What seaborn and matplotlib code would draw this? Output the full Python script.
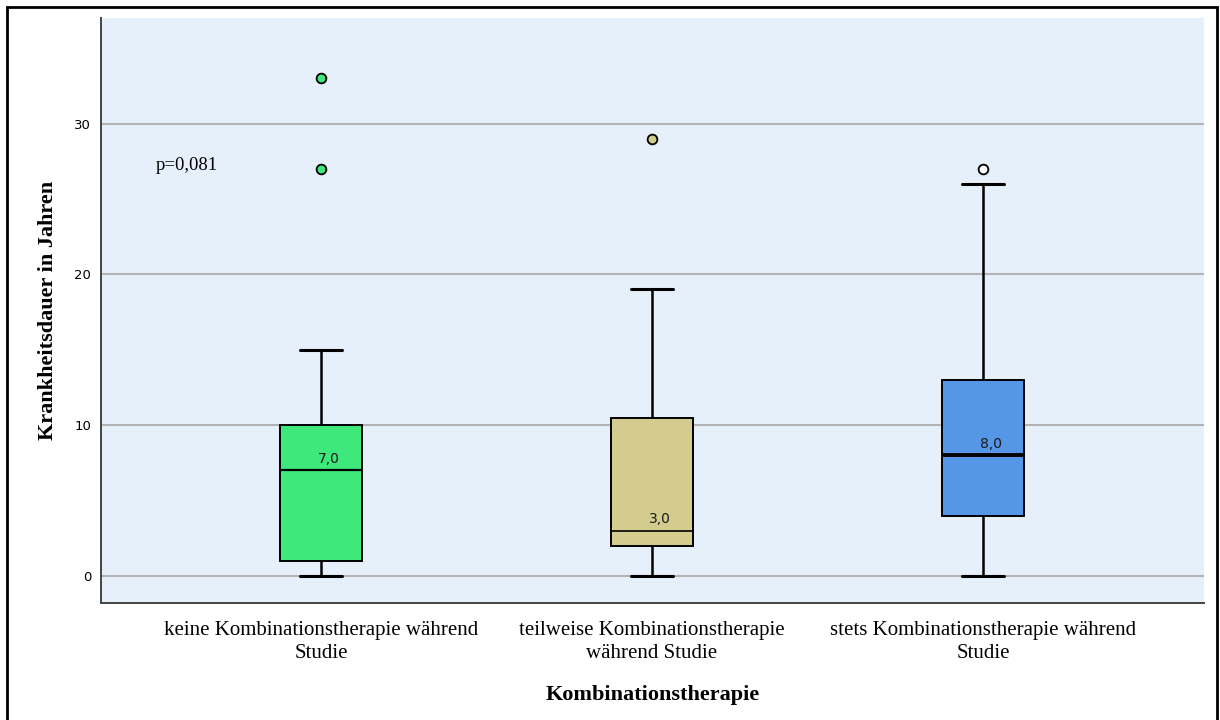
import numpy as np
import pandas as pd

import matplotlib
matplotlib.use('Agg')

import matplotlib.pyplot as plt
from matplotlib.patches import Rectangle

import seaborn as sns

# Gruppen und (geschätzte) Einzelwerte, so gewählt dass Quartile/Whisker/Ausreißer dem Bild entsprechen
groups = ['keine Kombinationstherapie während\nStudie',
          'teilweise Kombinationstherapie\nwährend Studie',
          'stets Kombinationstherapie während\nStudie']
keine = [0, 0.5, 1, 1, 4, 6, 7, 8, 10, 10, 15, 27, 33]
teilweise = [0, 1, 2, 2, 2, 3, 3, 5, 8, 10.5, 14, 19, 29]
stets = [0, 2, 3, 4, 5, 7, 8, 9, 11, 13, 18, 26, 27]

box_colors = ['#3FE87A', '#D4CC8F', '#5596E6']
flier_faces = ['#3FE87A', '#D4CC8F', 'white']
median_labels = ['7,0', '3,0', '8,0']
median_widths = [1.6, 1.2, 2.8]
yticks = [0, 10, 20, 30]
p_text = 'p=0,081'

df = pd.DataFrame({
    'gruppe': [groups[0]] * len(keine) + [groups[1]] * len(teilweise) + [groups[2]] * len(stets),
    'dauer': keine + teilweise + stets,
})

sns.set_theme(style='white')
plt.rcParams['text.color'] = 'black'
plt.rcParams['axes.labelcolor'] = 'black'
plt.rcParams['xtick.color'] = 'black'
plt.rcParams['ytick.color'] = 'black'
serif = ['Liberation Serif', 'DejaVu Serif']

fig = plt.figure(figsize=(12.2, 7.2), dpi=100)
ax = fig.add_axes([101 / 1220, 1 - 603 / 720, (1204 - 101) / 1220, (603 - 18) / 720])
ax.set_facecolor('#E6F0FB')

sns.boxplot(data=df, x='gruppe', y='dauer', hue='gruppe', palette=box_colors,
            width=0.25, whis=1.5, linecolor='black', linewidth=1.4, legend=False,
            saturation=1, ax=ax,
            whiskerprops=dict(linewidth=1.8, color='black'),
            capprops=dict(linewidth=2.2, color='black'),
            flierprops=dict(marker='o', markersize=7, markeredgecolor='black',
                            markeredgewidth=1.3))

for line in ax.lines:
    x = np.asarray(line.get_xdata(), dtype=float)
    y = np.asarray(line.get_ydata(), dtype=float)
    if len(x) == 0:
        continue
    gi = int(round(np.mean(x)))
    if line.get_marker() == 'o':
        line.set_markerfacecolor(flier_faces[gi])
        line.set_markeredgecolor('black')
    elif len(y) == 2 and y[0] == y[1]:
        if abs(x[1] - x[0]) > 0.2:
            line.set_linewidth(median_widths[gi])
            line.set_color('black')
        else:
            c = np.mean(x)
            line.set_xdata([c - 0.0635, c + 0.0635])

# Gitterlinien (nach der Nachbearbeitung, damit sie nicht erfasst werden)
for y in yticks:
    ax.axhline(y, color='#B3B3B3', lw=1.5, zorder=0.5)

for i, vals in enumerate([keine, teilweise, stets]):
    ax.text(i + 0.024, np.median(vals) + 0.3, median_labels[i], fontsize=10,
            color='#1a1a1a', ha='center', va='bottom', family='DejaVu Sans')

ax.text(-0.5, 27.2, p_text, fontsize=13.5, family=serif, va='center', ha='left')

ax.set_xlim(-0.665, 2.668)
ax.set_ylim(-1.8, 37)
ax.set_yticks(yticks)
ax.set_yticklabels([str(t) for t in yticks], fontsize=9.5, family='DejaVu Sans')
ax.set_xticks(range(3))
ax.set_xticklabels(groups, fontsize=15, family=serif, linespacing=1.25)
ax.tick_params(axis='x', length=0, pad=13)
ax.tick_params(axis='y', length=0, pad=7)

ax.set_xlabel('Kombinationstherapie', fontsize=16, fontweight='bold', family=serif, labelpad=16)
ax.set_ylabel('Krankheitsdauer in Jahren', fontsize=16, fontweight='bold', family=serif, labelpad=12)

for s in ['top', 'right']:
    ax.spines[s].set_visible(False)
for s in ['left', 'bottom']:
    ax.spines[s].set_color('#444444')
    ax.spines[s].set_linewidth(1.4)

fig.patches.append(Rectangle((7 / 1220, -0.01), (1217 - 7) / 1220, 1 - 7 / 720 + 0.01,
                             transform=fig.transFigure, fill=False, edgecolor='black',
                             linewidth=2, clip_on=False))

plt.savefig('out.png', dpi=100)
plt.close()
